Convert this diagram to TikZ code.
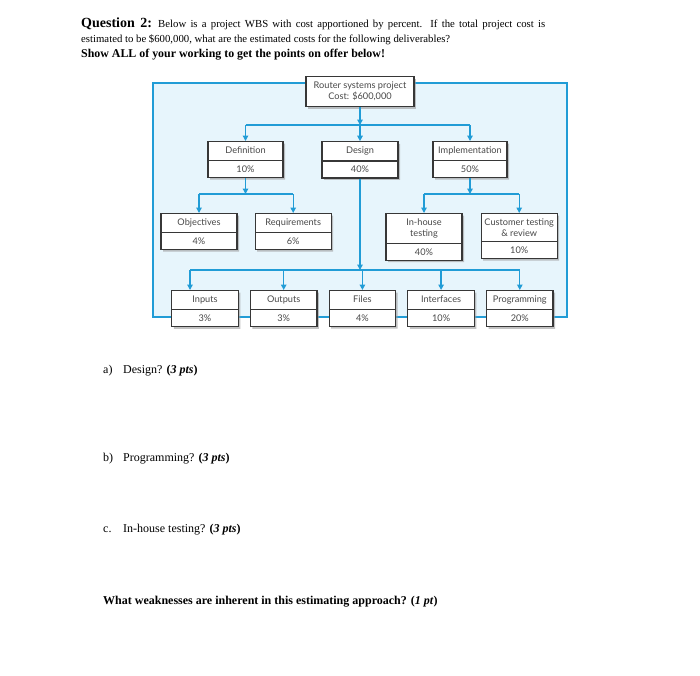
\documentclass[tikz,border=0pt]{standalone}
\usepackage{fontspec}
\setmainfont{Liberation Serif}
\newfontfamily\wbsfont{Lato}
\usetikzlibrary{arrows.meta,positioning,shapes.multipart,shadows}
\definecolor{wbsblue}{RGB}{33,156,214}
\definecolor{wbsmist}{RGB}{231,245,252}
\definecolor{boxgray}{RGB}{55,55,55}
\definecolor{inkgray}{RGB}{72,72,72}

\begin{document}
\begin{tikzpicture}[x=1pt, y=-1pt,
  wbs/.style={rectangle split, rectangle split parts=2, draw=boxgray, line width=1.2pt,
              fill=white, align=center, text=inkgray, inner xsep=2pt, inner ysep=4.5pt,
              text height=7pt, text depth=2pt,
              font=\wbsfont\fontsize{9.2}{11}\selectfont, anchor=north,
              drop shadow={shadow xshift=2pt, shadow yshift=-2pt, fill=black!40, opacity=0.6}},
  tall/.style={text height={}, text depth={}},
  rootbox/.style={draw=boxgray, line width=1.2pt, fill=white, align=center, text=inkgray,
              inner ysep=5.5pt, minimum width=108pt, anchor=north,
              font=\wbsfont\fontsize{9.2}{11}\selectfont,
              drop shadow={shadow xshift=2pt, shadow yshift=-2pt, fill=black!40, opacity=0.6}},
  frame/.style={draw=wbsblue, fill=wbsmist, line width=1.2pt},
  bus/.style={draw=wbsblue, line width=1.3pt},
  arr/.style={-{Triangle[length=5.5pt,width=5.5pt]}, draw=wbsblue, line width=1.3pt},
  para/.style={anchor=base west, inner sep=0pt}]
\useasboundingbox (0,0) rectangle (700,675);
% question text
\node[para] (qhead) at (81,27) {\makebox[464pt][s]{{\fontsize{14}{16}\selectfont\bfseries Question 2:}
  \fontsize{10.75}{12}\selectfont Below is a project WBS with cost apportioned by percent. If the total project cost is}};
\node[para] (qline) at (81,42) {\fontsize{10.75}{12}\selectfont estimated to be \$600,000, what are the estimated costs for the following deliverables?};
\node[para] (qshow) at (81,57) {\fontsize{11.9}{13}\selectfont\bfseries Show ALL of your working to get the points on offer below!};
% blue frame behind the chart
\draw[frame] (153,83) rectangle (567,317);
% level 1 and 2
\node[rootbox] (root) at (360,76) {Router systems project\\Cost: \$600,000};
\node[wbs, minimum width=75pt] (def) at (245.5,141) {Definition\nodepart{two}10\%};
\node[wbs, minimum width=76pt, below=34pt of root] (des) {Design\nodepart{two}40\%};
\node[wbs, minimum width=74pt] (imp) at (470,141) {Implementation\nodepart{two}50\%};
% level 3
\node[wbs, minimum width=76pt] (obj) at (199,213) {Objectives\nodepart{two}4\%};
\node[wbs, minimum width=76pt, right=17pt of obj.north east, anchor=north west] (req) {Requirements\nodepart{two}6\%};
\node[wbs, tall, minimum width=76pt] (inh) at (424,213) {In-house\\testing\nodepart{two}40\%};
\node[wbs, tall, minimum width=76pt, right=18pt of inh.north east, anchor=north west] (cus) {Customer testing\\\& review\nodepart{two}10\%};
% bottom row
\node[wbs, minimum width=66.5pt] (inp) at (205,290) {Inputs\nodepart{two}3\%};
\node[wbs, minimum width=66.5pt, right=11pt of inp.north east, anchor=north west] (out) {Outputs\nodepart{two}3\%};
\node[wbs, minimum width=66.5pt, right=11pt of out.north east, anchor=north west] (fil) {Files\nodepart{two}4\%};
\node[wbs, minimum width=66.5pt, right=11pt of fil.north east, anchor=north west] (int) {Interfaces\nodepart{two}10\%};
\node[wbs, minimum width=66.5pt, right=11pt of int.north east, anchor=north west] (prg) {Programming\nodepart{two}20\%};
% connectors
\coordinate (inpdrop) at (190,270);
\draw[arr] (root) -- (root |- 0,125);
\draw[bus] (def |- 0,125) -- (imp |- 0,125);
\draw[arr] (def |- 0,125) -- (def.north); \draw[arr] (des |- 0,125) -- (des.north); \draw[arr] (imp |- 0,125) -- (imp.north);
\draw[arr] (def.south) -- (def |- 0,194);
\draw[bus] (obj |- 0,194) -- (req |- 0,194);
\draw[arr] (obj |- 0,194) -- (obj.north); \draw[arr] (req |- 0,194) -- (req.north);
\draw[arr] (imp.south) -- (imp |- 0,194);
\draw[bus] (inh |- 0,194) -- (cus |- 0,194);
\draw[arr] (inh |- 0,194) -- (inh.north); \draw[arr] (cus |- 0,194) -- (cus.north);
\draw[arr] (des.south) -- (des.south |- inpdrop);
\draw[bus] (inpdrop) -- (prg |- inpdrop);
\draw[arr] (inpdrop) -- (inpdrop |- inp.north);
\draw[arr] (out |- inpdrop) -- (out.north); \draw[arr] (fil |- inpdrop) -- (fil.north);
\draw[arr] (int |- inpdrop) -- (int.north); \draw[arr] (prg |- inpdrop) -- (prg.north);
% parts of the question
\node[para] (qa) at (103,373) {\fontsize{12}{14}\selectfont\makebox[20pt][l]{a)}Design? \textbf{(\textit{3 pts})}};
\node[para] (qb) at (103,461) {\fontsize{12}{14}\selectfont\makebox[20pt][l]{b)}Programming? \textbf{(\textit{3 pts})}};
\node[para] (qc) at (103,532) {\fontsize{12}{14}\selectfont\makebox[20pt][l]{c.}In-house testing? \textbf{(\textit{3 pts})}};
\node[para] (qw) at (103,604) {\fontsize{12}{14}\selectfont\bfseries What weaknesses are inherent in this estimating approach? (\textit{1 pt})};
\end{tikzpicture}
\end{document}
